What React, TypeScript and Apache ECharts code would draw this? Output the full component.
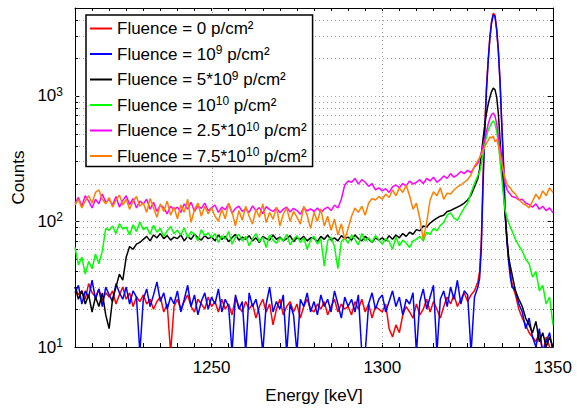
import React, { useEffect, useRef } from 'react';
import * as echarts from 'echarts';

const W = 577;
const H = 409;
const FONT = 'Liberation Sans, Arial, sans-serif';

const X_MIN = 1210;
const X_MAX = 1350;
const Y_MIN = 10;
const Y_MAX = 5000;

// Energy bins (keV): 1 keV below the peak, 0.5 keV across the peak, 1 keV in the tail
const energyLow: number[] = [];
for (let e = 1210; e <= 1328; e += 1) energyLow.push(e);
const energyPeak: number[] = [1328.5, 1329, 1329.5, 1330, 1330.5, 1331, 1331.5, 1332, 1332.5, 1333,
  1333.5, 1334, 1334.5, 1335, 1335.5, 1336, 1336.5, 1337, 1337.5, 1338];
const energyTail: number[] = [1339, 1340, 1341, 1342, 1343, 1344, 1345, 1346, 1347, 1348, 1349, 1350];
const energy: number[] = [...energyLow, ...energyPeak, ...energyTail];

// Fluence = 0
const red: number[] = [
  30, 26, 28, 24, 32, 27, 25, 29, 23, 27,
  25, 28, 22, 26, 30, 24, 27, 21, 25, 23,
  26, 22, 24, 20, 23, 25, 19, 22, 9, 21,
  24, 20, 23, 26, 21, 19, 24, 22, 20, 25,
  21, 23, 19, 24, 20, 22, 18, 25, 21, 19,
  23, 20, 22, 17, 21, 24, 19, 22, 15, 20,
  24, 18, 21, 23, 19, 22, 17, 21, 24, 20,
  19, 22, 20, 23, 18, 21, 24, 19, 22, 20,
  21, 18, 23, 20, 24, 19, 22, 17, 21, 20,
  19, 22, 14, 12, 15, 13, 18, 21, 19, 17,
  22, 18, 20, 24, 19, 23, 20, 17, 21, 25,
  22, 26, 21, 24, 27, 23, 26, 28, 33,
  40, 70, 220, 560, 1150, 1900, 2900, 3900, 4550, 4400,
  3400, 2300, 1300, 600, 300, 120, 75, 52, 40, 32,
  26, 20, 17, 15, 13, 12, 11, 13, 9, 12, 10, 9,
];

// Fluence = 1e9
const blue: number[] = [
  27, 31, 22, 28, 25, 34, 24, 29, 21, 30,
  26, 23, 32, 27, 24, 30, 22, 28, 25, 9,
  24, 29, 21, 26, 33, 23, 27, 20, 25, 22,
  28, 19, 24, 31, 21, 26, 18, 23, 27, 20,
  25, 22, 29, 19, 24, 21, 9, 26, 20, 23,
  9, 27, 21, 24, 18, 9, 22, 30, 19, 23,
  20, 26, 9, 22, 18, 9, 24, 21, 27, 19,
  23, 18, 26, 21, 24, 19, 28, 22, 17, 25,
  21, 24, 19, 26, 9, 9, 22, 27, 20, 24,
  26, 19, 23, 28, 21, 25, 18, 24, 22, 27,
  9, 23, 29, 20, 25, 31, 9, 24, 28, 21,
  30, 24, 34, 22, 28, 26, 9, 25, 30,
  35, 60, 190, 500, 1080, 1850, 2850, 3800, 4400, 4300,
  3350, 2250, 1250, 580, 280, 115, 70, 48, 36, 30,
  28, 22, 19, 14, 17, 12, 10, 14, 9, 11, 13, 9,
];

// Fluence = 5e9
const black: number[] = [
  30, 24, 28, 22, 26, 19, 25, 21, 27, 18,
  14, 24, 30, 38, 34, 52, 63, 60, 66, 68,
  72, 76, 70, 78, 74, 80, 73, 77, 71, 75,
  73, 78, 70, 76, 72, 79, 74, 71, 77, 73,
  75, 70, 78, 72, 76, 69, 74, 79, 71, 75,
  72, 77, 70, 74, 68, 76, 73, 71, 78, 72,
  75, 70, 73, 77, 69, 74, 72, 76, 70, 74,
  73, 69, 76, 72, 78, 71, 74, 70, 77, 73,
  75, 71, 78, 73, 70, 76, 72, 68, 74, 71,
  74, 70, 77, 72, 78, 74, 80, 76, 82, 79,
  86, 84, 92, 90, 97, 102, 106, 110, 112, 120,
  122, 126, 130, 134, 140, 148, 162, 188, 220,
  260, 340, 450, 580, 720, 850, 970, 1080, 1150, 1120,
  980, 720, 440, 280, 180, 110, 72, 52, 44, 38,
  28, 24, 21, 17, 15, 13, 16, 11, 13, 10, 12, 10,
];

// Fluence = 1e10
const green: number[] = [
  62, 45, 52, 38, 48, 42, 55, 46, 58, 88,
  85, 92, 80, 96, 87, 90, 78, 94, 83, 99,
  86, 90, 79, 93, 82, 88, 76, 84, 91, 80,
  85, 78, 89, 74, 83, 79, 70, 86, 77, 81,
  74, 80, 68, 77, 72, 83, 66, 75, 79, 70,
  76, 64, 73, 80, 69, 75, 62, 78, 71, 67,
  74, 70, 79, 65, 72, 77, 68, 74, 60, 71,
  76, 66, 73, 44, 70, 75, 63, 42, 69, 74,
  67, 78, 72, 65, 80, 70, 74, 68, 77, 71,
  66, 73, 69, 60, 75, 64, 71, 67, 62, 70,
  72, 76, 70, 82, 79, 88, 84, 93, 98, 112,
  117, 106, 102, 115, 128, 140, 170, 200, 232,
  245, 285, 340, 410, 470, 530, 570, 610, 630, 600,
  520, 420, 300, 220, 160, 122, 108, 98, 90, 84,
  72, 64, 58, 50, 46, 36, 40, 28, 31, 22, 25, 15,
];

// Fluence = 2.5e10
const magenta: number[] = [
  140, 155, 132, 160, 145, 128, 150, 138, 165, 142,
  150, 135, 158, 130, 147, 160, 136, 152, 128, 145,
  138, 150, 125, 142, 120, 135, 128, 115, 132, 124,
  130, 118, 138, 125, 142, 120, 133, 127, 140, 122,
  128, 135, 118, 130, 124, 138, 116, 127, 132, 120,
  126, 118, 133, 122, 129, 115, 131, 124, 120, 128,
  117, 125, 130, 119, 127, 122, 114, 129, 121, 126,
  120, 128, 118, 125, 130, 122, 135, 128, 150, 195,
  210, 205, 220, 198, 215, 205, 190, 200, 178, 185,
  175, 182, 170, 188, 195, 185, 200, 192, 210, 198,
  205, 215, 200, 220, 210, 225, 205, 215, 230, 220,
  240, 225, 235, 250, 240, 255, 245, 270, 290,
  320, 350, 400, 450, 520, 590, 660, 710, 730, 690,
  600, 480, 380, 300, 240, 200, 180, 170, 165, 158,
  155, 148, 150, 140, 136, 130, 138, 125, 132, 122, 128, 117,
];

// Fluence = 7.5e10
const orange: number[] = [
  135, 150, 128, 145, 160, 140, 170, 178, 150, 138,
  155, 130, 148, 162, 135, 150, 125, 145, 158, 132,
  140, 118, 152, 128, 108, 138, 120, 145, 112, 130,
  105, 135, 118, 150, 98, 125, 140, 110, 132, 115,
  128, 110, 100, 125, 105, 140, 118, 92, 122, 102,
  132, 110, 95, 125, 108, 138, 98, 118, 104, 130,
  92, 114, 128, 100, 120, 108, 95, 132, 112, 88,
  118, 100, 126, 92, 110, 85, 104, 78, 96, 72,
  88, 110, 128, 118, 132, 112, 140, 152, 148, 158,
  150, 165, 155, 178, 160, 185, 170, 195, 160, 125,
  140, 105, 72, 98, 148, 172, 160, 185, 150, 168,
  165, 178, 188, 195, 205, 215, 235, 275, 305,
  320, 340, 370, 390, 420, 440, 470, 460, 480, 430,
  450, 400, 340, 290, 250, 220, 200, 190, 185, 175,
  165, 150, 140, 135, 128, 145, 165, 150, 175, 160, 185, 170,
];

const seriesNames: string[] = [
  'Fluence = 0 p/cm²',
  'Fluence = 10^9 p/cm²',
  'Fluence = 5*10^9 p/cm²',
  'Fluence = 10^10 p/cm²',
  'Fluence = 2.5*10^10 p/cm²',
  'Fluence = 7.5*10^10 p/cm²',
];
const seriesColors: string[] = ['#ff0000', '#0000ff', '#000000', '#00ff00', '#ff00ff', '#ff8000'];
const seriesValues: number[][] = [red, blue, black, green, magenta, orange];

const yGridValues: number[] = [20, 30, 40, 50, 60, 70, 80, 90, 100, 200, 300, 400, 500, 600, 700, 800, 900, 1000, 2000, 3000, 4000];
const yMajor: number[] = [10, 100, 1000];
const xGridValues: number[] = [1250, 1300];

const toRich = (name: string) => '{t|' + name.replace(/\^(\d+)/, '}{s|$1}{t|') + '}';

export default function App() {
  const ref = useRef<HTMLDivElement>(null);
  useEffect(() => {
    if (!ref.current) return;
    const chart = echarts.init(ref.current, undefined, { renderer: 'svg' });
    const lineSeries = seriesNames.map((name, i) => ({
      name,
      type: 'line',
      xAxisIndex: 0,
      yAxisIndex: 0,
      symbol: 'none',
      showSymbol: false,
      clip: true,
      z: 3 + i,
      color: seriesColors[i],
      lineStyle: { width: 1.5, color: seriesColors[i] },
      data: energy.map((e, k) => [e, seriesValues[i][k]]),
    }));
    const option: any = {
      animation: false,
      backgroundColor: '#fff',
      grid: { left: 75, top: 8, width: 478, height: 340, containLabel: false },
      legend: {
        data: seriesNames.map((name) => ({ name, icon: 'rect' })),
        orient: 'vertical',
        left: 86,
        top: 15,
        padding: [5, 6, 2, 4],
        itemWidth: 22,
        itemHeight: 2,
        itemGap: 7,
        backgroundColor: '#fff',
        borderColor: '#000',
        borderWidth: 1.5,
        borderRadius: 0,
        selectedMode: false,
        formatter: (name: string) => toRich(name),
        textStyle: {
          rich: {
            t: { fontSize: 17, lineHeight: 20, fontFamily: FONT, color: '#000' },
            s: { fontSize: 12, lineHeight: 10, verticalAlign: 'top', fontFamily: FONT, color: '#000' },
          },
        },
      },
      xAxis: [
        {
          type: 'value', min: X_MIN, max: X_MAX, interval: 5, position: 'bottom',
          axisLine: { show: true, onZero: false, lineStyle: { color: '#000', width: 1 } },
          axisTick: { show: true, inside: true, length: 4, lineStyle: { color: '#000' } },
          axisLabel: {
            formatter: (v: number) => (Math.abs(v % 50) < 1e-6 ? String(v) : ''),
            color: '#000', fontSize: 17, fontFamily: FONT, margin: 12,
          },
          splitLine: { show: false },
          name: 'Energy [keV]', nameLocation: 'middle', nameGap: 40,
          nameTextStyle: { color: '#000', fontSize: 17, fontFamily: FONT },
        },
        {
          type: 'value', min: X_MIN, max: X_MAX, interval: 5, position: 'top',
          axisLine: { show: true, onZero: false, lineStyle: { color: '#000', width: 1 } },
          axisTick: { show: true, inside: true, length: 3, lineStyle: { color: '#000' } },
          axisLabel: { show: false },
          splitLine: { show: false },
        },
      ],
      yAxis: [
        {
          type: 'log', logBase: 10, min: Y_MIN, max: Y_MAX, position: 'left',
          axisLine: { show: true, onZero: false, lineStyle: { color: '#000', width: 1 } },
          axisTick: { show: true, inside: true, length: 5, lineStyle: { color: '#000' } },
          axisLabel: {
            formatter: (v: number) => {
              const e = Math.round(Math.log10(v));
              if (Math.abs(v - Math.pow(10, e)) > 1e-6 * v) return '';
              return '{b|10}{s|' + e + '}';
            },
            margin: 12,
            rich: {
              b: { fontSize: 17, lineHeight: 20, fontFamily: FONT, color: '#000' },
              s: { fontSize: 12, lineHeight: 10, verticalAlign: 'top', fontFamily: FONT, color: '#000' },
            },
          },
          splitLine: { show: false },
          name: 'Counts', nameLocation: 'middle', nameGap: 45, nameRotate: 90,
          nameTextStyle: { color: '#000', fontSize: 17, fontFamily: FONT },
        },
        {
          type: 'log', logBase: 10, min: Y_MIN, max: Y_MAX, position: 'right',
          axisLine: { show: true, onZero: false, lineStyle: { color: '#000', width: 1 } },
          axisTick: { show: true, inside: true, length: 5, lineStyle: { color: '#000' } },
          axisLabel: { show: false },
          splitLine: { show: false },
        },
      ],
      series: [
        {
          name: 'hgrid',
          type: 'custom',
          xAxisIndex: 0,
          yAxisIndex: 0,
          silent: true,
          z: 1,
          encode: { x: 0, y: 1 },
          data: yGridValues.map((v) => [X_MIN, v]),
          renderItem: (params: any, api: any) => {
            const cs = params.coordSys;
            const v = api.value(1);
            const y = Math.round(api.coord([X_MIN, v])[1]) + 0.5;
            const children: any[] = [
              {
                type: 'line',
                shape: { x1: cs.x, y1: y, x2: cs.x + cs.width, y2: y },
                style: { stroke: '#a0a0a0', lineWidth: 1, lineDash: [1, 3] },
              },
            ];
            if (yMajor.indexOf(v) < 0) {
              children.push(
                { type: 'line', shape: { x1: cs.x, y1: y, x2: cs.x + 3, y2: y }, style: { stroke: '#000', lineWidth: 1 } },
                { type: 'line', shape: { x1: cs.x + cs.width - 3, y1: y, x2: cs.x + cs.width, y2: y }, style: { stroke: '#000', lineWidth: 1 } },
              );
            }
            return { type: 'group', children };
          },
        },
        {
          name: 'vgrid',
          type: 'custom',
          xAxisIndex: 0,
          yAxisIndex: 0,
          silent: true,
          z: 1,
          encode: { x: 0, y: 1 },
          data: xGridValues.map((v) => [v, Y_MIN]),
          renderItem: (params: any, api: any) => {
            const cs = params.coordSys;
            const x = Math.round(api.coord([api.value(0), Y_MIN])[0]) + 0.5;
            return {
              type: 'line',
              shape: { x1: x, y1: cs.y, x2: x, y2: cs.y + cs.height },
              style: { stroke: '#a0a0a0', lineWidth: 1, lineDash: [1, 3] },
            };
          },
        },
        ...lineSeries,
      ],
    };
    chart.setOption(option);
    return () => chart.dispose();
  }, []);
  return (
    <div
      ref={ref}
      style={{ position: 'absolute', left: 0, top: 0, width: W, height: H, background: '#fff' }}
    />
  );
}
